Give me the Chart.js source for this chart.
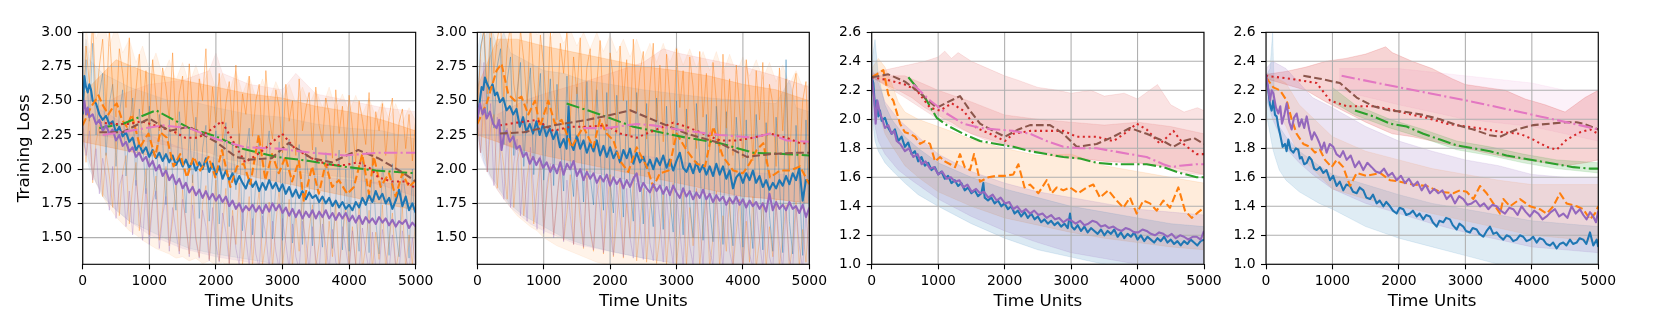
<!DOCTYPE html>
<html><head><meta charset="utf-8">
<script src="https://cdn.jsdelivr.net/npm/chart.js@4.4.1/dist/chart.umd.min.js"></script>
<style>
html,body{margin:0;padding:0;background:#fff;}
#wrap{position:relative;width:1661px;height:312px;overflow:hidden;background:#fff;}
canvas{position:absolute;left:0;top:0;}
</style>
</head><body><div id="wrap">
<canvas id="c1" width="1661" height="312"></canvas>
<canvas id="c2" width="1661" height="312"></canvas>
<canvas id="c3" width="1661" height="312"></canvas>
<canvas id="c4" width="1661" height="312"></canvas>
</div>
<script>
// ---------- tick labels ----------
const X_TICKS = [0, 1000, 2000, 3000, 4000, 5000];
const X_LABELS = ['0', '1000', '2000', '3000', '4000', '5000'];
const Y_TICKS_A = [1.5, 1.75, 2.0, 2.25, 2.5, 2.75, 3.0];
const Y_LABELS_A = ['1.50', '1.75', '2.00', '2.25', '2.50', '2.75', '3.00'];
const Y_TICKS_B = [1.0, 1.2, 1.4, 1.6, 1.8, 2.0, 2.2, 2.4, 2.6];
const Y_LABELS_B = ['1.0', '1.2', '1.4', '1.6', '1.8', '2.0', '2.2', '2.4', '2.6'];
const X_TITLE = 'Time Units';
const Y_TITLE = 'Training Loss';

// sample times of the individual (faint) runs
const RUN_T = [0,50,100,150,200,250,300,350,400,450,500,550,600,650,700,750,800,850,900,950,1000,1050,1100,1150,1200,1250,1300,1350,1400,1450,1500,1550,1600,1650,1700,1750,1800,1850,1900,1950,2000,2050,2100,2150,2200,2250,2300,2350,2400,2450,2500,2550,2600,2650,2700,2750,2800,2850,2900,2950,3000,3050,3100,3150,3200,3250,3300,3350,3400,3450,3500,3550,3600,3650,3700,3750,3800,3850,3900,3950,4000,4050,4100,4150,4200,4250,4300,4350,4400,4450,4500,4550,4600,4650,4700,4750,4800,4850,4900,4950,5000];

// ---------- panel 1 : mean curves [time, loss] ----------
const P1_BLUE = [[0,2.40],[25,2.68],[50,2.60],[75,2.56],[100,2.62],[125,2.58],[150,2.50],[200,2.48],[250,2.40],[300,2.36],[350,2.39],[400,2.33],[450,2.35],[500,2.27],[550,2.31],[600,2.24],[650,2.27],[700,2.20],[750,2.23],[800,2.14],[850,2.18],[900,2.12],[950,2.16],[1000,2.09],[1050,2.14],[1100,2.08],[1150,2.12],[1200,2.06],[1250,2.11],[1300,2.05],[1350,2.10],[1400,2.03],[1450,2.08],[1500,2.02],[1550,2.07],[1600,2.01],[1650,2.06],[1700,1.99],[1750,2.05],[1800,2.00],[1850,2.08],[1900,1.98],[1950,2.04],[2000,1.96],[2050,2.02],[2100,1.93],[2150,1.99],[2200,1.92],[2250,1.97],[2300,1.89],[2350,1.95],[2400,1.90],[2450,1.86],[2500,1.93],[2550,1.87],[2600,1.91],[2650,1.84],[2700,1.90],[2750,1.85],[2800,1.92],[2850,1.86],[2900,1.90],[2950,1.84],[3000,1.89],[3050,1.82],[3100,1.87],[3150,1.80],[3200,1.85],[3250,1.79],[3300,1.84],[3350,1.78],[3400,1.83],[3450,1.79],[3500,1.81],[3550,1.76],[3600,1.80],[3650,1.75],[3700,1.79],[3750,1.73],[3800,1.77],[3850,1.72],[3900,1.76],[3950,1.71],[4000,1.74],[4050,1.70],[4100,1.76],[4150,1.72],[4200,1.79],[4250,1.74],[4300,1.81],[4350,1.76],[4400,1.84],[4450,1.78],[4500,1.82],[4550,1.75],[4600,1.79],[4650,1.71],[4700,1.77],[4750,1.85],[4800,1.73],[4850,1.80],[4900,1.70],[4950,1.75],[5000,1.68]];
const P1_PURPLE = [[0,2.42],[25,2.50],[50,2.40],[75,2.45],[100,2.38],[150,2.40],[200,2.33],[250,2.36],[300,2.28],[350,2.32],[400,2.26],[450,2.29],[500,2.21],[550,2.25],[600,2.17],[650,2.20],[700,2.13],[750,2.16],[800,2.09],[850,2.12],[900,2.06],[950,2.09],[1000,2.02],[1050,2.06],[1100,1.99],[1150,2.03],[1200,1.95],[1250,1.99],[1300,1.92],[1350,1.96],[1400,1.89],[1450,1.93],[1500,1.86],[1550,1.90],[1600,1.83],[1650,1.87],[1700,1.81],[1750,1.85],[1800,1.79],[1850,1.84],[1900,1.78],[1950,1.82],[2000,1.77],[2050,1.81],[2100,1.76],[2150,1.80],[2200,1.73],[2250,1.77],[2300,1.71],[2350,1.75],[2400,1.69],[2450,1.73],[2500,1.70],[2550,1.74],[2600,1.69],[2650,1.73],[2700,1.68],[2750,1.74],[2800,1.69],[2850,1.75],[2900,1.70],[2950,1.74],[3000,1.68],[3050,1.72],[3100,1.66],[3150,1.71],[3200,1.65],[3250,1.70],[3300,1.64],[3350,1.69],[3400,1.65],[3450,1.70],[3500,1.64],[3550,1.69],[3600,1.65],[3650,1.70],[3700,1.64],[3750,1.68],[3800,1.63],[3850,1.68],[3900,1.64],[3950,1.68],[4000,1.62],[4050,1.66],[4100,1.61],[4150,1.66],[4200,1.60],[4250,1.65],[4300,1.61],[4350,1.64],[4400,1.60],[4450,1.65],[4500,1.61],[4550,1.64],[4600,1.59],[4650,1.63],[4700,1.58],[4750,1.62],[4800,1.60],[4850,1.63],[4900,1.57],[4950,1.61],[5000,1.58]];
const P1_ORANGE = [[0,2.32],[120,2.45],[236,2.54],[310,2.46],[386,2.40],[450,2.45],[512,2.48],[590,2.36],[662,2.31],[737,2.40],[800,2.28],[863,2.16],[930,2.22],[988,2.26],[1088,2.09],[1164,2.27],[1264,2.23],[1364,2.02],[1464,2.11],[1565,1.94],[1665,2.09],[1765,1.99],[1890,2.09],[1991,1.94],[2091,2.14],[2217,1.87],[2317,2.02],[2417,2.04],[2517,1.89],[2643,2.25],[2743,1.92],[2843,2.11],[2944,1.97],[3044,2.09],[3144,1.91],[3245,2.06],[3320,1.77],[3445,2.02],[3546,1.82],[3646,2.04],[3746,1.87],[3846,1.92],[3972,1.82],[4072,1.87],[4197,2.11],[4298,1.82],[4373,2.09],[4473,1.87],[4599,1.97],[4699,1.80],[4799,1.97],[4900,1.87],[5000,1.92]];
const P1_GREEN = [[250,2.30],[600,2.33],[1100,2.43],[1600,2.30],[2000,2.24],[2400,2.15],[2900,2.09],[3400,2.06],[3900,2.02],[4400,1.99],[5000,1.97]];
const P1_RED = [[250,2.34],[500,2.33],[700,2.33],[886,2.35],[1085,2.32],[1386,2.27],[1536,2.23],[1736,2.23],[1900,2.28],[2087,2.35],[2287,2.18],[2437,2.05],[2600,2.10],[2737,2.15],[2994,2.26],[3188,2.15],[3438,2.08],[3688,2.03],[3938,2.03],[4137,2.05],[4337,2.00],[4436,1.94],[4640,1.91],[4840,1.91],[5000,1.86]];
const P1_BROWN = [[250,2.27],[600,2.27],[1000,2.37],[1300,2.28],[1600,2.31],[2000,2.20],[2300,2.09],[2500,2.07],[2838,2.08],[3087,2.19],[3438,2.08],[3738,2.05],[4137,2.14],[4436,2.08],[4790,1.98],[5000,1.91]];
const P1_PINK = [[300,2.25],[700,2.28],[1200,2.32],[1600,2.30],[2000,2.22],[2437,2.16],[2937,2.15],[3438,2.12],[3938,2.10],[4437,2.12],[5000,2.12]];
// panel 1 : individual runs (values at RUN_T)
const P1_RUN_ORANGE_A = [2.35,2.90,2.62,3.08,2.48,2.75,2.95,2.42,3.02,2.60,2.38,2.88,2.70,2.45,2.96,2.33,2.58,2.84,2.40,2.72,2.30, 2.80,2.52,2.28,2.74,2.60,2.36,2.85,2.25,2.55,2.68,2.30,2.77,2.42,2.22,2.66,2.50,2.88,2.26,2.60,2.34, 2.70,2.20,2.48,2.64,2.30,2.76,2.18,2.55,2.40,2.68,2.24,2.50,2.62,2.16,2.72,2.38,2.22,2.58,2.45,2.12, 2.62,2.35,2.50,2.10,2.66,2.28,2.44,2.56,2.14,2.60,2.32,2.20,2.52,2.40,2.08,2.58,2.26,2.46,2.12,2.54, 2.30,2.05,2.50,2.36,2.18,2.56,2.02,2.42,2.28,2.48,2.10,2.38,2.52,2.00,2.34,2.44,2.15,2.40,2.06,2.36];
const P1_RUN_ORANGE_B = [2.30,2.05,2.42,1.90,2.20,2.32,1.80,2.12,1.95,1.72,2.22,1.66,1.98,2.10,1.60,1.88,2.05,1.55,1.80,2.00,1.52, 1.78,1.95,1.48,1.70,2.02,1.44,1.62,1.90,1.40,1.85,1.58,1.38,1.96,1.50,1.36,1.75,1.88,1.34,1.64,1.92, 1.33,1.58,1.86,1.31,1.70,1.45,1.90,1.30,1.55,1.80,1.29,1.66,1.84,1.30,1.48,1.76,1.28,1.60,1.86,1.29, 1.52,1.78,1.28,1.68,1.40,1.82,1.27,1.56,1.74,1.28,1.46,1.80,1.27,1.62,1.36,1.76,1.27,1.50,1.72,1.28, 1.58,1.30,1.76,1.27,1.44,1.70,1.27,1.54,1.34,1.74,1.27,1.48,1.68,1.27,1.40,1.72,1.28,1.52,1.30,1.66];
const P1_RUN_BLUE = [2.40,2.80,2.35,2.92,2.25,2.55,2.70,2.10,2.48,2.62,2.02,2.40,2.58,1.95,2.30,2.52,1.88,2.44,2.20,1.82,2.46, 2.05,1.78,2.40,2.22,1.74,2.36,1.95,1.70,2.42,2.10,1.68,2.30,1.90,2.38,1.64,2.15,2.32,1.62,1.96,2.28, 1.60,2.05,2.34,1.58,2.20,1.85,2.26,1.55,2.12,2.30,1.52,1.92,2.24,1.50,2.08,2.28,1.49,1.88,2.20,1.48, 2.02,2.22,1.46,1.80,2.18,1.45,2.10,1.90,1.44,2.16,1.70,1.43,2.12,1.95,1.42,1.78,2.14,1.41,2.00,1.40, 2.10,1.68,1.40,2.06,1.88,1.39,2.08,1.62,1.38,2.02,1.85,1.37,2.04,1.56,1.36,1.98,1.80,1.35,2.00,1.34];
const P1_RUN_PURPLE = [2.35,2.10,2.28,1.92,2.15,1.82,2.08,1.95,1.70,2.02,1.64,1.88,1.96,1.58,1.84,1.52,1.92,1.70,1.48,1.86,1.45, 1.76,1.84,1.42,1.66,1.80,1.40,1.72,1.55,1.38,1.78,1.62,1.36,1.74,1.48,1.35,1.70,1.58,1.33,1.72,1.45, 1.32,1.68,1.54,1.31,1.66,1.42,1.30,1.70,1.50,1.29,1.64,1.38,1.28,1.66,1.52,1.28,1.62,1.40,1.27,1.64, 1.46,1.27,1.60,1.36,1.27,1.62,1.48,1.26,1.58,1.34,1.26,1.60,1.44,1.26,1.56,1.32,1.26,1.58,1.42,1.26, 1.55,1.30,1.26,1.57,1.40,1.26,1.54,1.28,1.26,1.56,1.38,1.26,1.52,1.30,1.26,1.55,1.36,1.26,1.50,1.28];
// panel 1 : spread of runs [time, low, high]
const P1_BAND_ORANGE = [[0,2.30,2.55],[50,2.20,3.05],[100,2.05,2.85],[150,1.98,3.10],[200,1.90,2.95],[300,1.80,3.10],[400,1.72,2.90],[500,1.65,3.05],[600,1.60,2.85],[700,1.55,2.95],[800,1.52,2.78],[900,1.48,2.90],[1000,1.45,2.72],[1100,1.42,2.85],[1200,1.40,2.68],[1300,1.38,2.80],[1400,1.35,2.65],[1500,1.36,2.78],[1600,1.33,2.62],[1700,1.35,2.76],[1800,1.31,2.60],[1900,1.33,2.74],[2000,1.30,2.58],[2100,1.32,2.70],[2200,1.28,2.56],[2300,1.30,2.72],[2400,1.28,2.55],[2500,1.29,2.68],[2600,1.28,2.52],[2700,1.28,2.66],[2800,1.28,2.50],[2900,1.28,2.64],[3000,1.28,2.52],[3100,1.28,2.62],[3200,1.28,2.48],[3300,1.28,2.60],[3400,1.28,2.47],[3500,1.28,2.58],[3600,1.28,2.45],[3700,1.28,2.60],[3800,1.28,2.44],[3900,1.28,2.55],[4000,1.28,2.42],[4100,1.28,2.54],[4200,1.28,2.40],[4300,1.28,2.52],[4400,1.28,2.38],[4500,1.28,2.50],[4600,1.28,2.36],[4700,1.28,2.48],[4800,1.28,2.34],[4900,1.28,2.45],[5000,1.28,2.35]];
const P1_CORE_ORANGE = [[0,2.20,2.55],[500,2.15,2.80],[1000,2.10,2.70],[1500,2.05,2.65],[2000,2.00,2.60],[2500,1.95,2.55],[3000,1.90,2.52],[3500,1.85,2.46],[4000,1.80,2.42],[4500,1.75,2.36],[5000,1.70,2.28]];
const P1_BAND_BLUE = [[0,2.25,2.70],[50,2.10,2.95],[100,2.00,2.80],[200,1.90,2.75],[300,1.80,2.70],[500,1.70,2.65],[700,1.62,2.60],[1000,1.55,2.55],[1300,1.48,2.50],[1600,1.42,2.50],[2000,1.38,2.45],[2500,1.34,2.40],[3000,1.30,2.38],[3500,1.28,2.33],[4000,1.28,2.30],[4500,1.28,2.28],[5000,1.28,2.22]];
const P1_BAND_PURPLE = [[0,2.20,2.50],[100,2.05,2.55],[200,1.90,2.45],[400,1.75,2.40],[700,1.62,2.30],[1000,1.52,2.25],[1500,1.42,2.15],[2000,1.36,2.08],[2500,1.32,2.00],[3000,1.28,1.98],[4000,1.28,1.92],[5000,1.28,1.88]];
const P1_BAND_RED = [[200,2.25,2.45],[600,2.22,2.55],[1000,2.20,2.62],[1500,2.15,2.65],[1900,2.12,2.72],[2000,2.10,2.85],[2100,2.08,2.70],[2500,2.04,2.62],[3000,2.00,2.58],[3200,1.98,2.70],[3500,1.96,2.55],[4000,1.94,2.50],[4500,1.88,2.45],[5000,1.80,2.42]];

// ---------- panel 2 ----------
const P2_BLUE = [[0,2.36],[30,2.47],[65,2.60],[90,2.58],[115,2.67],[150,2.62],[190,2.58],[230,2.62],[265,2.54],[300,2.56],[340,2.49],[390,2.52],[440,2.43],[490,2.46],[540,2.40],[590,2.44],[640,2.31],[690,2.38],[740,2.27],[790,2.33],[840,2.26],[890,2.35],[940,2.25],[990,2.33],[1040,2.24],[1090,2.30],[1145,2.22],[1195,2.28],[1245,2.16],[1300,2.22],[1345,2.15],[1375,2.46],[1400,2.20],[1450,2.14],[1500,2.24],[1550,2.15],[1600,2.21],[1650,2.12],[1700,2.19],[1750,2.13],[1800,2.21],[1850,2.10],[1900,2.17],[1950,2.09],[2000,2.16],[2050,2.08],[2100,2.13],[2150,2.05],[2200,2.14],[2250,2.08],[2300,2.15],[2350,2.04],[2400,2.12],[2450,2.05],[2500,2.09],[2550,2.01],[2600,2.07],[2650,2.00],[2700,2.08],[2750,2.03],[2800,2.10],[2850,2.01],[2900,2.07],[2950,1.99],[3000,2.06],[3050,2.12],[3100,2.01],[3150,1.98],[3200,2.04],[3250,1.97],[3300,2.05],[3350,1.98],[3400,2.03],[3450,1.96],[3500,2.02],[3550,1.95],[3600,2.04],[3650,1.96],[3700,2.02],[3750,1.93],[3800,1.99],[3850,1.86],[3900,1.94],[3950,1.97],[4000,1.90],[4050,1.97],[4100,1.92],[4150,1.99],[4200,1.90],[4250,1.95],[4300,1.87],[4350,1.92],[4400,1.85],[4450,1.90],[4500,1.86],[4550,1.92],[4600,1.88],[4650,1.95],[4700,1.89],[4750,1.97],[4800,1.92],[4850,2.01],[4900,1.77],[4950,1.92],[5000,1.91]];
const P2_PURPLE = [[0,2.36],[40,2.48],[80,2.40],[110,2.44],[140,2.37],[190,2.42],[240,2.33],[290,2.30],[330,2.36],[365,2.14],[400,2.25],[440,2.28],[490,2.20],[540,2.24],[590,2.15],[640,2.17],[690,2.09],[740,2.12],[790,2.04],[840,2.09],[890,2.03],[940,2.08],[990,2.01],[1045,2.05],[1100,1.98],[1145,2.03],[1200,1.97],[1250,2.05],[1300,1.96],[1350,2.04],[1400,2.00],[1450,2.06],[1500,1.95],[1550,2.00],[1600,1.92],[1650,1.98],[1700,1.93],[1750,1.97],[1800,1.90],[1850,1.95],[1900,1.91],[1950,1.96],[2000,1.88],[2050,1.94],[2100,1.89],[2150,1.93],[2200,1.86],[2250,1.92],[2300,1.87],[2350,1.93],[2400,1.97],[2450,1.84],[2500,1.90],[2550,1.86],[2600,1.83],[2650,1.89],[2700,1.84],[2750,1.88],[2800,1.82],[2850,1.87],[2900,1.81],[2950,1.88],[3000,1.83],[3050,1.79],[3100,1.86],[3150,1.80],[3200,1.84],[3250,1.78],[3300,1.83],[3350,1.79],[3400,1.85],[3450,1.78],[3500,1.82],[3550,1.76],[3600,1.81],[3650,1.77],[3700,1.80],[3750,1.74],[3800,1.79],[3850,1.75],[3900,1.80],[3950,1.74],[4000,1.78],[4050,1.72],[4100,1.77],[4150,1.73],[4200,1.76],[4250,1.71],[4300,1.75],[4350,1.69],[4400,1.82],[4450,1.70],[4500,1.76],[4550,1.71],[4600,1.74],[4650,1.70],[4700,1.76],[4750,1.71],[4800,1.73],[4850,1.68],[4900,1.74],[4950,1.65],[5000,1.72]];
const P2_ORANGE = [[0,2.33],[140,2.48],[290,2.72],[365,2.77],[465,2.55],[565,2.50],[665,2.53],[768,2.40],[868,2.50],[944,2.31],[1069,2.50],[1170,2.33],[1270,2.36],[1420,2.16],[1500,2.23],[1596,2.31],[1747,2.16],[1847,2.36],[1948,2.26],[2050,2.21],[2150,2.06],[2274,1.98],[2400,2.16],[2550,2.02],[2650,1.87],[2750,1.97],[2880,1.99],[3002,2.26],[3150,2.14],[3303,2.04],[3430,2.02],[3554,2.31],[3700,2.09],[3855,1.99],[4000,1.97],[4100,2.04],[4207,2.14],[4307,2.19],[4408,1.94],[4560,1.99],[4710,1.99],[4860,2.02],[5000,1.89]];
const P2_GREEN = [[1345,2.48],[1847,2.40],[2350,2.31],[2650,2.28],[3150,2.23],[3655,2.19],[4157,2.12],[4660,2.11],[5000,2.10]];
const P2_RED = [[340,2.32],[600,2.34],[894,2.36],[1145,2.28],[1400,2.31],[1647,2.31],[1948,2.32],[2150,2.26],[2400,2.23],[2650,2.28],[2952,2.34],[3150,2.31],[3404,2.26],[3655,2.21],[3905,2.21],[4157,2.23],[4408,2.26],[4660,2.23],[4860,2.19],[5000,2.19]];
const P2_BROWN = [[340,2.26],[700,2.27],[1145,2.32],[1647,2.36],[1948,2.39],[2300,2.43],[2650,2.36],[3150,2.26],[3655,2.19],[4060,2.09],[4408,2.11],[4810,2.12],[5000,2.12]];
const P2_PINK = [[1596,2.30],[1948,2.30],[2400,2.33],[2650,2.32],[3150,2.28],[3655,2.25],[4157,2.23],[4408,2.26],[4660,2.21],[5000,2.20]];
const P2_RUN_ORANGE_A = [2.40,2.85,3.05,2.55,3.10,2.70,2.95,3.08,2.50,2.88,3.05,2.62,2.45,3.02,2.80,2.48,3.06,2.66,2.42,2.98,2.75, 2.40,3.00,2.58,2.36,2.92,2.70,3.02,2.35,2.82,2.55,2.96,2.32,2.74,2.88,2.30,2.62,2.94,2.40,2.28,2.85, 2.66,2.26,2.90,2.50,2.80,2.24,2.95,2.42,2.70,2.86,2.22,2.60,2.92,2.35,2.76,2.20,2.84,2.52,2.18,2.88, 2.45,2.72,2.16,2.82,2.60,2.15,2.86,2.38,2.70,2.14,2.78,2.50,2.12,2.84,2.30,2.66,2.10,2.76,2.44,2.08, 2.80,2.56,2.06,2.72,2.36,2.78,2.04,2.62,2.48,2.02,2.74,2.28,2.66,2.00,2.58,2.70,1.98,2.50,2.64,1.96];
const P2_RUN_ORANGE_B = [2.32,2.12,2.48,1.98,2.30,2.40,1.86,2.20,2.02,1.78,2.28,1.72,2.06,2.16,1.66,1.94,2.12,1.60,1.86,2.08,1.56, 1.84,2.02,1.52,1.76,2.06,1.48,1.68,1.96,1.45,1.92,1.62,1.42,2.00,1.55,1.40,1.80,1.94,1.38,1.70,1.96, 1.36,1.62,1.92,1.35,1.75,1.50,1.95,1.33,1.60,1.86,1.32,1.70,1.90,1.31,1.52,1.82,1.30,1.64,1.90,1.30, 1.56,1.84,1.29,1.72,1.44,1.86,1.29,1.60,1.80,1.28,1.50,1.84,1.28,1.66,1.40,1.80,1.28,1.54,1.78,1.28, 1.62,1.32,1.80,1.28,1.48,1.76,1.28,1.58,1.36,1.78,1.28,1.52,1.74,1.28,1.44,1.76,1.28,1.56,1.32,1.72];
const P2_RUN_BLUE = [2.45,2.90,3.00,2.40,2.96,2.30,2.75,2.88,2.18,2.65,2.82,2.10,2.56,2.78,2.02,2.48,2.74,1.96,2.40,2.70,1.92, 2.30,2.66,1.88,2.62,2.20,1.84,2.68,2.05,1.80,2.60,2.25,1.76,2.64,1.95,1.74,2.58,2.12,1.70,2.56,1.90, 1.68,2.54,2.20,1.65,2.50,1.88,1.62,2.56,2.05,1.60,2.48,1.82,1.58,2.52,2.10,1.56,2.46,1.78,1.54,2.50, 2.00,1.52,2.44,1.75,1.50,2.48,2.08,1.48,2.40,1.72,1.47,2.46,1.96,1.45,2.42,1.70,1.44,2.38,2.02,1.43, 2.36,1.68,1.42,2.40,1.98,1.41,2.34,1.66,1.40,2.38,1.92,1.39,2.80,1.62,1.38,2.32,1.90,1.37,2.36,1.60];
const P2_RUN_PURPLE = [2.40,2.12,2.78,1.98,2.48,1.88,2.38,2.10,1.78,2.30,1.72,2.04,2.22,1.66,2.00,1.62,2.16,1.85,1.56,2.10,1.53, 1.90,2.04,1.50,1.80,2.00,1.47,1.92,1.66,1.45,1.96,1.74,1.43,1.94,1.58,1.41,1.90,1.70,1.39,1.92,1.55, 1.37,1.88,1.64,1.36,1.86,1.50,1.35,1.90,1.60,1.34,1.84,1.46,1.33,1.86,1.62,1.32,1.82,1.48,1.31,1.84, 1.55,1.30,1.80,1.44,1.30,1.82,1.58,1.29,1.78,1.42,1.29,1.80,1.52,1.28,1.76,1.40,1.28,1.78,1.50,1.28, 1.74,1.38,1.28,1.76,1.48,1.27,1.72,1.36,1.27,1.74,1.46,1.27,1.70,1.34,1.27,1.72,1.44,1.27,1.68,1.33];
const P2_BAND_ORANGE = [[0,2.30,2.60],[100,2.10,2.95],[200,1.95,3.10],[300,1.85,3.05],[400,1.78,3.15],[500,1.72,3.00],[600,1.66,3.10],[700,1.62,3.00],[800,1.58,3.10],[900,1.55,2.98],[1000,1.50,3.08],[1100,1.47,2.95],[1200,1.44,3.05],[1300,1.42,2.92],[1400,1.40,3.02],[1500,1.38,2.90],[1600,1.36,3.00],[1700,1.34,2.88],[1800,1.32,3.00],[1900,1.31,2.86],[2000,1.30,2.98],[2100,1.28,2.85],[2200,1.28,2.95],[2300,1.28,2.82],[2400,1.28,2.95],[2500,1.28,2.80],[2600,1.28,2.92],[2700,1.28,2.78],[2800,1.28,2.92],[2900,1.28,2.78],[3000,1.28,2.90],[3100,1.28,2.76],[3200,1.28,2.88],[3300,1.28,2.74],[3400,1.28,2.86],[3500,1.28,2.72],[3600,1.28,2.86],[3700,1.28,2.70],[3800,1.28,2.84],[3900,1.28,2.70],[4000,1.28,2.82],[4100,1.28,2.68],[4200,1.28,2.80],[4300,1.28,2.66],[4400,1.28,2.78],[4500,1.28,2.64],[4600,1.28,2.76],[4700,1.28,2.62],[4800,1.28,2.72],[4900,1.28,2.60],[5000,1.28,2.62]];
const P2_CORE_ORANGE = [[0,2.25,2.60],[300,2.20,2.95],[600,2.15,2.95],[1000,2.10,2.90],[1500,2.05,2.85],[2000,2.00,2.80],[2500,1.95,2.75],[3000,1.90,2.72],[3500,1.85,2.68],[4000,1.80,2.62],[4500,1.78,2.58],[5000,1.75,2.50]];
const P2_BAND_BLUE = [[0,2.25,2.85],[50,2.15,3.00],[100,2.05,2.95],[200,1.95,3.05],[300,1.88,2.90],[400,1.80,3.00],[500,1.74,2.85],[700,1.66,2.80],[1000,1.58,2.72],[1300,1.50,2.70],[1600,1.45,2.65],[2000,1.40,2.62],[2500,1.35,2.58],[3000,1.31,2.55],[3500,1.28,2.52],[4000,1.28,2.50],[4500,1.28,2.48],[4700,1.28,2.65],[4800,1.28,2.45],[5000,1.28,2.42]];
const P2_BAND_PURPLE = [[0,2.20,2.55],[50,2.10,2.80],[150,1.98,2.60],[300,1.85,2.50],[500,1.72,2.42],[800,1.60,2.35],[1000,1.55,2.30],[1500,1.45,2.22],[2000,1.40,2.15],[2500,1.35,2.10],[3000,1.31,2.06],[3500,1.28,2.02],[4000,1.28,1.98],[5000,1.28,1.95]];
const P2_BAND_RED = [[300,2.20,2.40],[700,2.12,2.50],[1000,2.05,2.55],[1500,2.00,2.62],[2000,1.95,2.70],[2500,1.90,2.78],[2800,1.88,2.88],[3000,1.85,2.85],[3500,1.82,2.80],[4000,1.80,2.75],[4500,1.78,2.68],[5000,1.75,2.60]];

// ---------- panel 3 ----------
const P3_BLUE = [[0,2.29],[25,2.25],[50,2.08],[75,2.13],[100,2.02],[125,2.06],[150,1.99],[200,2.01],[250,1.94],[300,1.90],[350,1.93],[400,1.85],[450,1.88],[500,1.81],[550,1.84],[600,1.76],[650,1.78],[700,1.71],[750,1.74],[800,1.68],[850,1.70],[900,1.65],[950,1.67],[1000,1.62],[1050,1.64],[1100,1.59],[1150,1.61],[1200,1.56],[1250,1.58],[1300,1.54],[1350,1.56],[1400,1.51],[1450,1.53],[1500,1.49],[1550,1.51],[1600,1.47],[1650,1.49],[1680,1.56],[1700,1.46],[1750,1.44],[1800,1.46],[1850,1.42],[1900,1.44],[1950,1.40],[2000,1.42],[2050,1.38],[2100,1.40],[2150,1.35],[2200,1.37],[2250,1.33],[2300,1.36],[2350,1.32],[2400,1.35],[2450,1.31],[2500,1.33],[2550,1.29],[2600,1.31],[2650,1.28],[2700,1.30],[2750,1.27],[2800,1.29],[2850,1.26],[2900,1.28],[2950,1.25],[2984,1.35],[3009,1.26],[3050,1.24],[3100,1.27],[3150,1.23],[3200,1.26],[3250,1.22],[3300,1.25],[3350,1.23],[3400,1.21],[3450,1.24],[3500,1.20],[3550,1.23],[3600,1.21],[3650,1.24],[3700,1.19],[3750,1.22],[3800,1.18],[3850,1.21],[3900,1.19],[3950,1.22],[4000,1.17],[4050,1.20],[4100,1.16],[4150,1.19],[4200,1.17],[4250,1.15],[4300,1.18],[4350,1.16],[4400,1.19],[4450,1.15],[4500,1.17],[4550,1.14],[4600,1.16],[4650,1.13],[4700,1.16],[4750,1.14],[4800,1.17],[4850,1.15],[4900,1.13],[4950,1.16],[5000,1.17]];
const P3_PURPLE = [[0,2.29],[35,2.15],[60,1.97],[85,2.13],[125,2.04],[160,2.00],[200,1.94],[250,1.96],[300,1.90],[340,1.92],[376,1.85],[430,1.83],[500,1.78],[560,1.80],[627,1.74],[690,1.76],[752,1.69],[810,1.71],[878,1.66],[940,1.67],[1003,1.62],[1060,1.64],[1128,1.59],[1190,1.60],[1254,1.57],[1320,1.58],[1379,1.53],[1440,1.55],[1505,1.50],[1570,1.52],[1630,1.49],[1690,1.50],[1755,1.46],[1820,1.48],[1880,1.44],[1940,1.46],[2006,1.42],[2070,1.43],[2131,1.38],[2190,1.40],[2257,1.36],[2320,1.38],[2382,1.35],[2445,1.37],[2508,1.34],[2570,1.35],[2633,1.32],[2700,1.34],[2759,1.31],[2820,1.32],[2884,1.29],[2945,1.31],[3009,1.30],[3070,1.28],[3135,1.30],[3200,1.27],[3260,1.28],[3320,1.30],[3385,1.29],[3450,1.26],[3511,1.27],[3570,1.25],[3636,1.26],[3700,1.24],[3762,1.23],[3820,1.25],[3886,1.24],[3950,1.22],[4012,1.22],[4075,1.24],[4137,1.23],[4200,1.21],[4263,1.20],[4325,1.22],[4388,1.21],[4450,1.19],[4514,1.21],[4575,1.18],[4639,1.20],[4700,1.19],[4765,1.17],[4830,1.19],[4890,1.19],[4950,1.17],[5000,1.23]];
const P3_ORANGE = [[0,2.29],[75,2.31],[175,2.34],[250,2.17],[325,2.13],[426,1.97],[500,1.91],[577,1.90],[652,1.88],[727,1.83],[800,1.85],[878,1.83],[953,1.71],[1028,1.74],[1100,1.71],[1180,1.69],[1254,1.67],[1329,1.76],[1400,1.67],[1480,1.65],[1540,1.76],[1630,1.57],[1755,1.60],[1880,1.61],[2006,1.61],[2131,1.62],[2207,1.69],[2300,1.53],[2382,1.55],[2508,1.49],[2633,1.58],[2708,1.49],[2784,1.53],[2884,1.51],[2984,1.53],[3109,1.49],[3235,1.53],[3335,1.55],[3435,1.46],[3560,1.51],[3686,1.44],[3786,1.39],[3886,1.46],[3987,1.35],[4087,1.44],[4187,1.42],[4288,1.37],[4388,1.44],[4488,1.39],[4614,1.53],[4714,1.37],[4815,1.32],[4915,1.36],[5000,1.39]];
const P3_GREEN = [[552,2.29],[677,2.22],[827,2.13],[978,2.01],[1128,1.96],[1379,1.90],[1630,1.85],[1880,1.83],[2131,1.81],[2382,1.78],[2633,1.76],[2884,1.74],[3135,1.73],[3385,1.70],[3636,1.69],[3886,1.69],[4137,1.69],[4388,1.67],[4639,1.63],[4890,1.60],[5000,1.60]];
const P3_RED = [[0,2.29],[250,2.27],[500,2.24],[677,2.20],[878,2.08],[1028,2.06],[1204,2.11],[1379,2.06],[1580,1.94],[1780,1.90],[2006,1.85],[2131,1.90],[2382,1.92],[2633,1.92],[2884,1.92],[3084,1.88],[3385,1.88],[3636,1.85],[3800,1.90],[3987,1.97],[4137,1.93],[4338,1.83],[4539,1.92],[4689,1.83],[4890,1.76],[5000,1.76]];
const P3_BROWN = [[0,2.29],[250,2.31],[500,2.26],[677,2.20],[978,2.08],[1150,2.12],[1329,2.16],[1480,2.06],[1630,1.97],[1830,1.92],[2006,1.88],[2207,1.93],[2382,1.96],[2683,1.96],[2884,1.90],[3084,1.81],[3385,1.83],[3636,1.88],[3886,1.94],[4137,1.90],[4388,1.85],[4539,1.81],[4689,1.85],[4850,1.87],[5000,1.83]];
const P3_PINK = [[627,2.24],[878,2.13],[1128,2.04],[1379,1.97],[1630,1.94],[1880,1.93],[2131,1.92],[2382,1.90],[2633,1.85],[2884,1.81],[3135,1.80],[3385,1.80],[3636,1.78],[3886,1.76],[4137,1.74],[4388,1.69],[4514,1.67],[4639,1.68],[4890,1.69],[5000,1.69]];
const P3_BAND_RED = [[0,2.29,2.31],[200,2.24,2.34],[400,2.20,2.36],[600,2.15,2.38],[800,2.08,2.40],[1000,2.03,2.43],[1100,2.00,2.47],[1200,1.98,2.42],[1300,1.95,2.46],[1500,1.90,2.40],[1700,1.86,2.36],[2000,1.82,2.30],[2200,1.80,2.27],[2500,1.77,2.22],[2800,1.74,2.20],[3000,1.73,2.18],[3300,1.72,2.20],[3500,1.71,2.16],[3800,1.70,2.18],[4000,1.70,2.14],[4300,1.68,2.24],[4500,1.66,2.10],[4700,1.63,2.05],[4900,1.62,2.08],[5000,1.62,2.06]];
const P3_CORE_RED = [[0,2.29,2.30],[500,2.15,2.30],[1000,2.00,2.20],[1500,1.90,2.12],[2000,1.83,2.03],[2500,1.78,2.00],[3000,1.74,1.98],[3500,1.71,1.96],[4000,1.70,1.98],[4500,1.67,1.95],[5000,1.62,1.90]];
const P3_BAND_ORANGE = [[0,2.20,2.35],[100,2.05,2.42],[200,1.90,2.36],[300,1.82,2.25],[400,1.75,2.12],[500,1.68,2.05],[700,1.60,2.00],[1000,1.50,1.95],[1300,1.44,1.90],[1500,1.40,1.86],[2000,1.32,1.80],[2500,1.27,1.75],[3000,1.22,1.76],[3500,1.18,1.68],[4000,1.15,1.64],[4500,1.12,1.60],[5000,1.10,1.56]];
const P3_BAND_BLUE = [[0,2.05,2.40],[50,1.85,2.55],[100,1.78,2.30],[200,1.70,2.10],[300,1.65,2.00],[500,1.56,1.88],[700,1.48,1.80],[1000,1.40,1.70],[1500,1.28,1.60],[2000,1.18,1.52],[2500,1.10,1.46],[3000,1.05,1.40],[3500,1.00,1.36],[4000,0.98,1.32],[4500,0.96,1.28],[5000,0.95,1.26]];
const P3_BAND_PURPLE = [[0,2.05,2.35],[100,1.85,2.25],[200,1.76,2.12],[400,1.65,2.00],[600,1.58,1.92],[1000,1.45,1.76],[1500,1.33,1.64],[2000,1.23,1.56],[2500,1.15,1.50],[3000,1.08,1.46],[3500,1.04,1.42],[4000,1.00,1.38],[4500,0.98,1.36],[5000,0.96,1.34]];

// ---------- panel 4 ----------
const P4_BLUE = [[0,2.29],[35,2.20],[60,2.10],[85,2.06],[110,2.13],[135,2.03],[160,2.02],[185,1.95],[210,1.90],[250,1.81],[286,1.83],[310,1.78],[336,1.86],[370,1.79],[411,1.77],[450,1.80],[486,1.79],[510,1.73],[537,1.74],[575,1.69],[612,1.70],[650,1.74],[687,1.72],[725,1.66],[762,1.65],[810,1.67],[862,1.63],[910,1.65],[963,1.58],[1010,1.61],[1063,1.54],[1110,1.57],[1163,1.51],[1210,1.55],[1264,1.54],[1310,1.50],[1364,1.49],[1410,1.53],[1465,1.51],[1510,1.46],[1565,1.45],[1610,1.48],[1665,1.42],[1710,1.44],[1765,1.40],[1810,1.43],[1866,1.40],[1910,1.37],[1966,1.35],[2010,1.39],[2066,1.38],[2110,1.34],[2166,1.35],[2210,1.37],[2267,1.33],[2310,1.35],[2367,1.31],[2410,1.34],[2467,1.33],[2510,1.29],[2568,1.26],[2610,1.30],[2668,1.29],[2710,1.32],[2768,1.31],[2810,1.27],[2869,1.24],[2910,1.28],[2969,1.26],[3010,1.23],[3069,1.22],[3110,1.25],[3170,1.24],[3210,1.21],[3270,1.19],[3320,1.23],[3370,1.26],[3420,1.21],[3470,1.22],[3520,1.19],[3571,1.17],[3620,1.20],[3671,1.19],[3720,1.16],[3771,1.17],[3820,1.20],[3871,1.19],[3920,1.16],[3972,1.17],[4020,1.19],[4072,1.15],[4120,1.18],[4172,1.17],[4220,1.14],[4273,1.13],[4320,1.15],[4373,1.11],[4420,1.14],[4473,1.15],[4520,1.13],[4574,1.17],[4620,1.14],[4674,1.15],[4720,1.18],[4774,1.17],[4820,1.14],[4875,1.22],[4925,1.13],[4975,1.17],[5000,1.12]];
const P4_PURPLE = [[0,2.31],[30,2.22],[60,2.13],[85,2.20],[110,2.18],[150,2.08],[186,2.04],[215,2.09],[240,1.97],[275,2.03],[311,2.11],[350,1.98],[386,1.93],[420,2.01],[461,2.04],[500,1.95],[537,2.00],[575,1.94],[612,2.02],[650,1.93],[687,1.86],[725,1.91],[762,1.88],[800,1.84],[838,1.79],[875,1.84],[912,1.77],[960,1.83],[1013,1.81],[1060,1.76],[1113,1.74],[1160,1.78],[1214,1.72],[1275,1.75],[1339,1.67],[1400,1.71],[1464,1.65],[1525,1.70],[1590,1.67],[1650,1.64],[1715,1.63],[1775,1.66],[1840,1.61],[1900,1.63],[1966,1.58],[2030,1.61],[2091,1.56],[2150,1.59],[2217,1.54],[2280,1.57],[2342,1.51],[2400,1.55],[2467,1.49],[2530,1.52],[2593,1.49],[2655,1.51],[2718,1.45],[2780,1.48],[2843,1.42],[2905,1.47],[2969,1.45],[3030,1.41],[3094,1.42],[3155,1.44],[3220,1.40],[3280,1.42],[3345,1.38],[3405,1.41],[3470,1.40],[3530,1.37],[3596,1.35],[3660,1.39],[3721,1.38],[3785,1.34],[3846,1.40],[3910,1.36],[3972,1.33],[4035,1.37],[4097,1.35],[4160,1.31],[4222,1.33],[4285,1.36],[4348,1.38],[4410,1.33],[4473,1.35],[4535,1.32],[4598,1.40],[4660,1.35],[4724,1.38],[4775,1.34],[4824,1.31],[4875,1.36],[4924,1.33],[4965,1.29],[5000,1.37]];
const P4_ORANGE = [[0,2.29],[110,2.22],[210,2.20],[311,2.13],[386,2.00],[461,1.90],[562,1.83],[662,1.81],[737,1.77],[812,1.79],[888,1.72],[988,1.67],[1063,1.72],[1163,1.67],[1264,1.54],[1364,1.63],[1515,1.61],[1715,1.63],[1866,1.58],[2016,1.57],[2216,1.55],[2417,1.54],[2617,1.50],[2818,1.49],[2918,1.51],[3019,1.50],[3120,1.45],[3220,1.54],[3320,1.49],[3420,1.42],[3521,1.35],[3571,1.45],[3671,1.40],[3822,1.45],[3972,1.40],[4122,1.38],[4223,1.35],[4323,1.40],[4423,1.49],[4523,1.42],[4674,1.40],[4774,1.38],[4875,1.31],[4950,1.35],[5000,1.40]];
const P4_GREEN = [[1339,2.06],[1615,2.02],[1866,1.97],[2116,1.95],[2367,1.90],[2618,1.86],[2869,1.82],[3119,1.80],[3370,1.78],[3620,1.75],[3871,1.73],[4122,1.71],[4373,1.69],[4624,1.67],[4875,1.66],[5000,1.66]];
const P4_RED = [[0,2.30],[361,2.28],[762,2.25],[963,2.13],[1214,2.09],[1615,2.09],[1866,2.07],[2116,2.04],[2417,2.01],[2718,1.97],[3019,1.95],[3320,1.93],[3571,1.91],[3822,1.90],[4022,1.86],[4222,1.81],[4373,1.79],[4523,1.86],[4724,1.91],[4875,1.93],[5000,1.90]];
const P4_BROWN = [[562,2.30],[812,2.28],[1113,2.25],[1364,2.15],[1615,2.09],[1866,2.06],[2116,2.05],[2367,2.03],[2618,2.00],[2869,1.96],[3119,1.93],[3370,1.89],[3521,1.88],[3771,1.93],[4022,1.96],[4273,1.97],[4524,1.98],[4674,1.98],[4774,1.97],[5000,1.93]];
const P4_PINK = [[1138,2.30],[2116,2.21],[3119,2.12],[4122,2.02],[4624,1.97],[5000,1.93]];
const P4_BAND_RED = [[0,2.28,2.31],[300,2.24,2.33],[600,2.20,2.36],[900,2.12,2.40],[1200,2.05,2.42],[1500,1.98,2.45],[1800,1.92,2.50],[1900,1.90,2.46],[2200,1.88,2.40],[2500,1.85,2.35],[2800,1.82,2.28],[3000,1.80,2.24],[3300,1.77,2.22],[3600,1.74,2.20],[3900,1.72,2.14],[4200,1.70,2.10],[4500,1.68,2.05],[4800,1.70,2.15],[5000,1.72,2.20]];
const P4_BAND_PINK = [[1100,2.20,2.35],[2000,2.10,2.35],[3000,2.00,2.30],[4000,1.95,2.25],[4500,1.90,2.20],[5000,1.85,2.20]];
const P4_BAND_GREEN = [[1000,2.12,2.22],[1339,2.03,2.10],[1866,1.94,2.00],[2367,1.87,1.93],[2869,1.79,1.85],[3370,1.75,1.81],[3871,1.70,1.76],[4373,1.66,1.72],[5000,1.63,1.70]];
const P4_BAND_BLUE = [[0,2.05,2.30],[60,1.90,2.35],[100,1.80,2.60],[130,1.75,2.10],[200,1.65,1.95],[300,1.58,1.88],[500,1.50,1.78],[800,1.42,1.68],[1000,1.38,1.62],[1500,1.26,1.55],[2000,1.18,1.48],[2500,1.12,1.42],[3000,1.06,1.38],[3500,1.00,1.34],[4000,0.98,1.30],[4500,0.96,1.28],[5000,0.95,1.26]];
const P4_BAND_PURPLE = [[0,2.15,2.35],[100,2.00,2.40],[300,1.80,2.35],[500,1.70,2.25],[700,1.62,2.15],[1000,1.52,2.08],[1500,1.42,1.95],[2000,1.35,1.85],[2500,1.28,1.78],[3000,1.22,1.72],[3500,1.17,1.68],[4000,1.12,1.62],[4500,1.10,1.60],[5000,1.08,1.60]];
const P4_BAND_ORANGE = [[0,2.20,2.32],[300,1.95,2.25],[500,1.75,2.10],[1000,1.52,1.88],[1500,1.45,1.78],[2000,1.40,1.72],[2500,1.35,1.66],[3000,1.30,1.62],[3500,1.25,1.58],[4000,1.20,1.55],[4500,1.18,1.55],[5000,1.15,1.55]];

// ---------- styling ----------
const RGB = {blue:'31,119,180', orange:'255,127,14', green:'44,160,44', red:'214,39,40', purple:'148,103,189', brown:'140,86,75', pink:'227,119,194'};
const DASH = {blue:[], orange:[7.7,3.3], green:[13.3,3.3,2.1,3.3], red:[2.1,3.4], purple:[], brown:[7.7,3.3], pink:[13.3,3.3,2.1,3.3]};
const LINE_ORDER = ['blue','orange','green','red','purple','brown','pink'];
const TICK_FONT = {family:'"DejaVu Sans", sans-serif', size:13.9};
const TITLE_FONT = {family:'"DejaVu Sans", sans-serif', size:16.7};

const PANELS = [
  {id:'c1', left:82.7, right:415.7, yMin:1.305, yMax:3.0, yTicks:Y_TICKS_A, yLabels:Y_LABELS_A, yTitle:true,
   bands:[[P1_BAND_RED,'red',0.08],[P1_BAND_BLUE,'blue',0.09],[P1_BAND_ORANGE,'orange',0.09],[P1_CORE_ORANGE,'orange',0.26],[P1_BAND_PURPLE,'purple',0.10]],
   runs:[[P1_RUN_BLUE,'blue',0.32],[P1_RUN_ORANGE_A,'orange',0.45],[P1_RUN_ORANGE_B,'orange',0.30],[P1_RUN_PURPLE,'purple',0.30]],
   lines:{blue:P1_BLUE, orange:P1_ORANGE, green:P1_GREEN, red:P1_RED, purple:P1_PURPLE, brown:P1_BROWN, pink:P1_PINK}},
  {id:'c2', left:477.3, right:809.3, yMin:1.305, yMax:3.0, yTicks:Y_TICKS_A, yLabels:Y_LABELS_A, yTitle:false,
   bands:[[P2_BAND_RED,'red',0.10],[P2_BAND_BLUE,'blue',0.11],[P2_BAND_ORANGE,'orange',0.09],[P2_CORE_ORANGE,'orange',0.24],[P2_BAND_PURPLE,'purple',0.10]],
   runs:[[P2_RUN_BLUE,'blue',0.40],[P2_RUN_ORANGE_A,'orange',0.45],[P2_RUN_ORANGE_B,'orange',0.30],[P2_RUN_PURPLE,'purple',0.30]],
   lines:{blue:P2_BLUE, orange:P2_ORANGE, green:P2_GREEN, red:P2_RED, purple:P2_PURPLE, brown:P2_BROWN, pink:P2_PINK}},
  {id:'c3', left:871.7, right:1204.0, yMin:1.0, yMax:2.6, yTicks:Y_TICKS_B, yLabels:Y_LABELS_B, yTitle:false,
   bands:[[P3_BAND_RED,'red',0.13],[P3_CORE_RED,'red',0.12],[P3_BAND_ORANGE,'orange',0.15],[P3_BAND_BLUE,'blue',0.16],[P3_BAND_PURPLE,'purple',0.18]],
   runs:[],
   lines:{blue:P3_BLUE, orange:P3_ORANGE, green:P3_GREEN, red:P3_RED, purple:P3_PURPLE, brown:P3_BROWN, pink:P3_PINK}},
  {id:'c4', left:1266.0, right:1598.3, yMin:1.0, yMax:2.6, yTicks:Y_TICKS_B, yLabels:Y_LABELS_B, yTitle:false,
   bands:[[P4_BAND_PINK,'pink',0.10],[P4_BAND_RED,'red',0.20],[P4_BAND_GREEN,'green',0.18],[P4_BAND_BLUE,'blue',0.14],[P4_BAND_ORANGE,'orange',0.13],[P4_BAND_PURPLE,'purple',0.18]],
   runs:[],
   lines:{blue:P4_BLUE, orange:P4_ORANGE, green:P4_GREEN, red:P4_RED, purple:P4_PURPLE, brown:P4_BROWN, pink:P4_PINK}}
];

// grid drawn above the shaded spreads (like matplotlib), and the four spines
const gridOverPlugin = {
  id:'gridOver',
  beforeDatasetDraw(chart, args, opts){
    if (args.index !== opts.index) return;
    const {ctx, chartArea:a, scales:{x, y}} = chart;
    ctx.save();
    ctx.beginPath(); ctx.rect(a.left, a.top, a.right - a.left, a.bottom - a.top); ctx.clip();
    ctx.strokeStyle = '#b0b0b0'; ctx.lineWidth = 1.1;
    ctx.beginPath();
    X_TICKS.forEach(v => { const px = x.getPixelForValue(v); ctx.moveTo(px, a.top); ctx.lineTo(px, a.bottom); });
    opts.yTicks.forEach(v => { const py = y.getPixelForValue(v); ctx.moveTo(a.left, py); ctx.lineTo(a.right, py); });
    ctx.stroke();
    ctx.restore();
  },
  afterDraw(chart){
    const {ctx, chartArea:a} = chart;
    ctx.save();
    ctx.strokeStyle = '#000'; ctx.lineWidth = 1.1;
    ctx.strokeRect(a.left, a.top, a.right - a.left, a.bottom - a.top);
    ctx.restore();
  }
};

function buildDatasets(p){
  const list = [];
  p.bands.forEach(([tri, col, a]) => {
    list.push({data: tri.map(r => ({x:r[0], y:r[2]})), borderColor:`rgba(${RGB[col]},${a})`, borderWidth:0.8,
      backgroundColor:`rgba(${RGB[col]},${a})`, fill:'+1', pointRadius:0, tension:0, clip:0});
    list.push({data: tri.map(r => ({x:r[0], y:r[1]})), borderColor:`rgba(${RGB[col]},${a})`, borderWidth:0.8,
      fill:false, pointRadius:0, tension:0, clip:0});
  });
  const firstAbove = list.length;
  p.runs.forEach(([vals, col, a]) => {
    const pts = vals.slice(0, RUN_T.length).map((v, i) => ({x:RUN_T[i], y:v}));
    list.push({data: pts, borderColor:`rgba(${RGB[col]},${a})`, borderWidth:1,
      fill:false, pointRadius:0, tension:0, clip:0});
  });
  LINE_ORDER.forEach(name => {
    const pts = p.lines[name];
    list.push({data: pts.map(r => ({x:r[0], y:r[1]})), borderColor:`rgb(${RGB[name]})`, borderWidth:2.08,
      borderDash:DASH[name], borderCapStyle:'butt', borderJoinStyle:'round', fill:false, pointRadius:0, tension:0, clip:0});
  });
  const n = list.length;
  list.forEach((d, i) => { d.order = n - i; });
  return {list, firstAbove};
}

PANELS.forEach(p => {
  const yW = p.yTitle ? p.left : 60;
  const {list, firstAbove} = buildDatasets(p);
  new Chart(document.getElementById(p.id), {
    type:'line',
    data:{datasets: list},
    plugins:[gridOverPlugin],
    options:{
      responsive:false, animation:false, devicePixelRatio:1, events:[],
      layout:{padding:{left:p.left - yW, right:1661 - p.right, top:32.3, bottom:0}},
      plugins:{legend:{display:false}, tooltip:{enabled:false}, gridOver:{index:firstAbove, yTicks:p.yTicks}},
      scales:{
        x:{type:'linear', min:0, max:5000,
          afterBuildTicks:s => { s.ticks = X_TICKS.map(v => ({value:v})); },
          afterFit:s => { s.height = 312 - 264.3; },
          ticks:{autoSkip:false, maxRotation:0, padding:3.4, color:'#000', font:TICK_FONT, callback:(v,i) => X_LABELS[i]},
          grid:{drawOnChartArea:false, drawTicks:true, tickColor:'#000', tickLength:5, tickWidth:1.1},
          border:{display:false},
          title:{display:true, text:X_TITLE, color:'#000', font:TITLE_FONT, padding:{top:0, bottom:0}}
        },
        y:{type:'linear', min:p.yMin, max:p.yMax,
          afterBuildTicks:s => { s.ticks = p.yTicks.map(v => ({value:v})); },
          afterFit:s => { s.width = yW; },
          ticks:{autoSkip:false, padding:5.5, color:'#000', font:TICK_FONT, callback:(v,i) => p.yLabels[i]},
          grid:{drawOnChartArea:false, drawTicks:true, tickColor:'#000', tickLength:5, tickWidth:1.1},
          border:{display:false},
          title:{display:p.yTitle, text:Y_TITLE, color:'#000', font:TITLE_FONT, padding:{top:14.7, bottom:0}}
        }
      }
    }
  });
});
</script>
</body></html>
